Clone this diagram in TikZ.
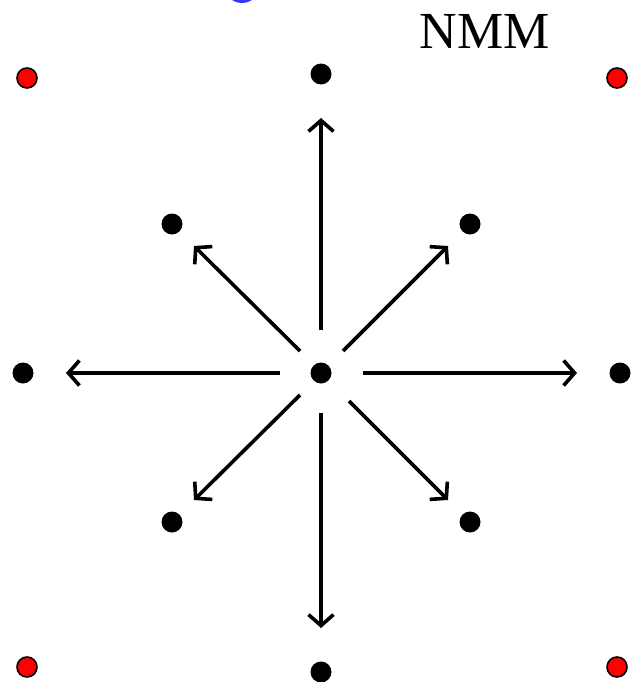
\documentclass[tikz,border=0pt]{standalone}
\usepackage{fontspec}
\setmainfont{Liberation Serif}
\usetikzlibrary{arrows.meta}
\begin{document}
\begin{tikzpicture}[x=1pt,y=-1pt,
  site/.style={circle,fill=black,inner sep=0pt,minimum size=21pt},
  corner/.style={circle,fill=red,draw=black,line width=1.6pt,inner sep=0pt,minimum size=20pt},
  vel/.style={line width=3.6pt,-{Straight Barb[length=11pt,width=25pt,line width=3.6pt]}}]
\useasboundingbox (0,0) rectangle (634,682);
% partially visible blue site at the top edge
\fill[blue!80] (242,-15) circle (18);
% lattice sites
\node[site] (c)  at (321,373) {};
\node[site] (n)  at (321,74)  {};
\node[site] (s)  at (321,672) {};
\node[site] (w)  at (23,373)  {};
\node[site] (e)  at (620,373) {};
\node[site] (nw) at (172,224) {};
\node[site] (ne) at (470,224) {};
\node[site] (sw) at (172,522) {};
\node[site] (se) at (470,522) {};
\node[corner] (r1) at (27,78)   {};
\node[corner] (r2) at (617,78)  {};
\node[corner] (r3) at (27,667)  {};
\node[corner] (r4) at (617,667) {};
% velocity arrows
\coordinate (an) at (321,118);
\coordinate (as) at (321,628);
\coordinate (aw) at (66,373);
\coordinate (ae) at (577,373);
\coordinate (ane) at (448,246);
\coordinate (anw) at (194,246);
\coordinate (asw) at (194,500);
\coordinate (ase) at (448,500);
\draw[vel] (321,330) -- (an);
\draw[vel] (321,413) -- (as);
\draw[vel] (280,373) -- (aw);
\draw[vel] (363,373) -- (ae);
\draw[vel] (343,351) -- (ane);
\draw[vel] (300,351) -- (anw);
\draw[vel] (300,395) -- (asw);
\draw[vel] (349,401) -- (ase);
\node[font=\fontsize{52}{60}\selectfont,anchor=base] (lbl) at (485,49) {NMM};
\end{tikzpicture}
\end{document}
